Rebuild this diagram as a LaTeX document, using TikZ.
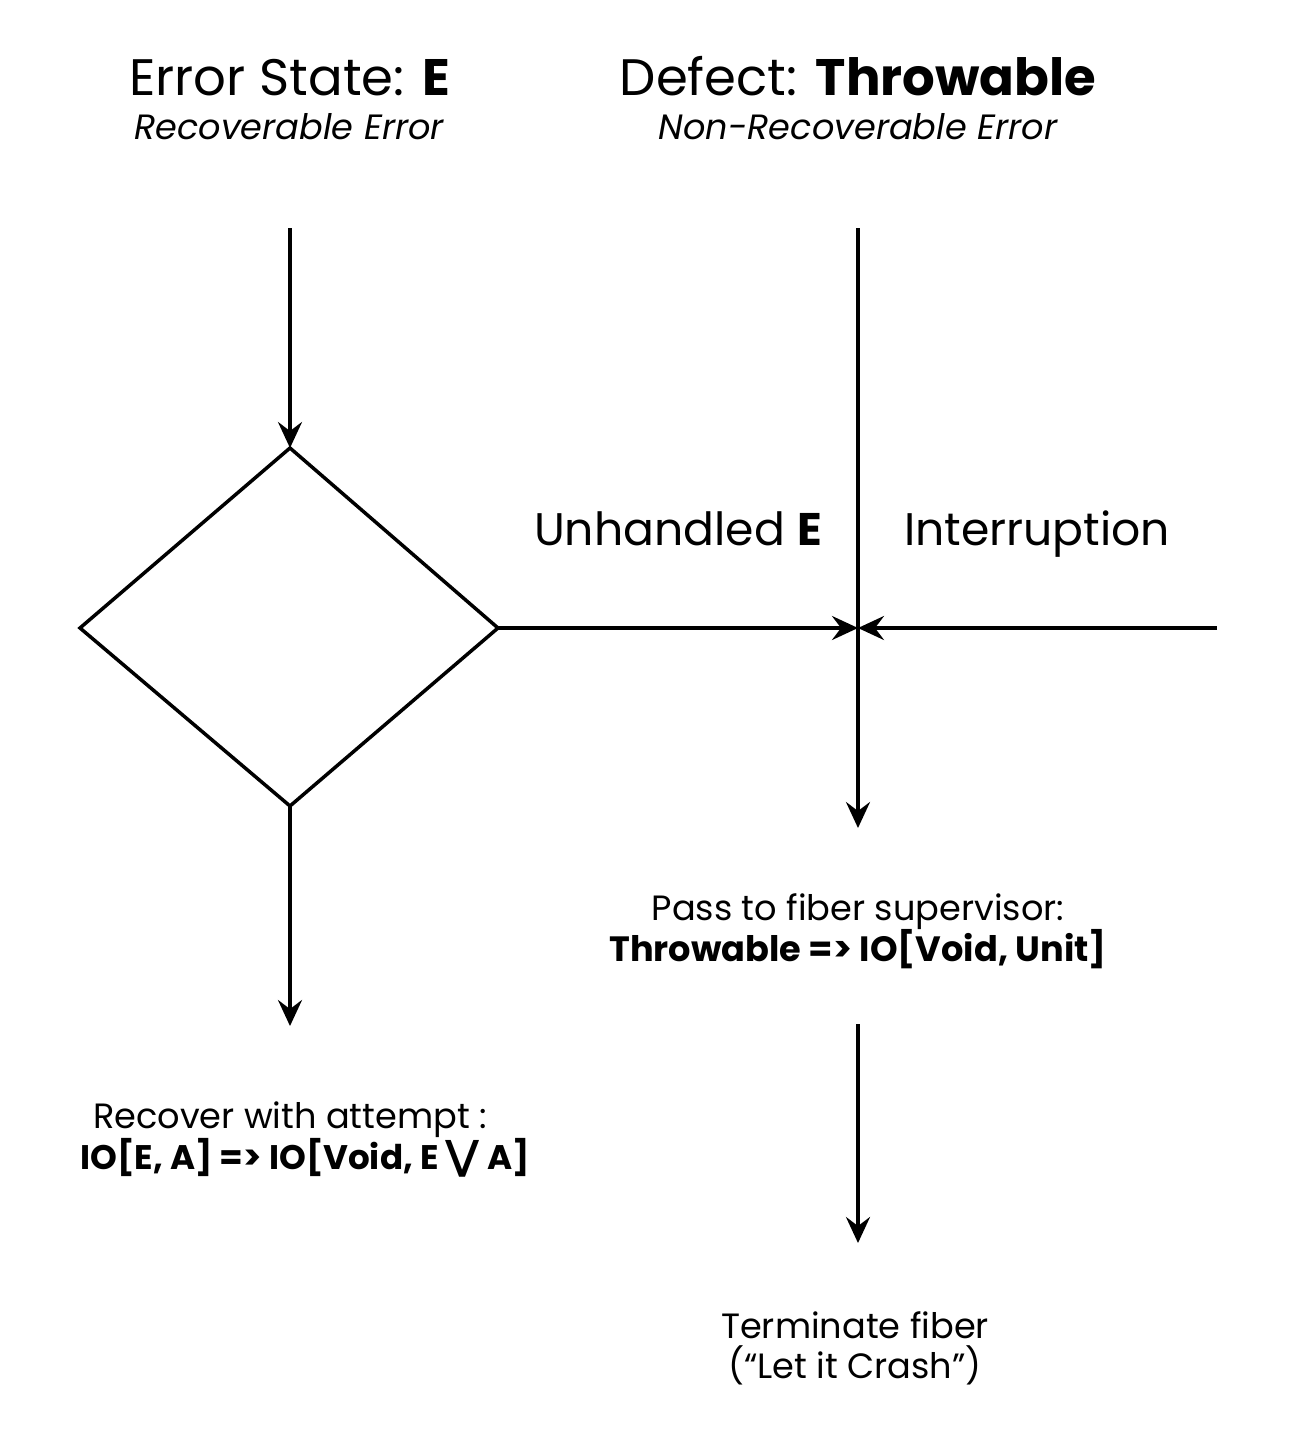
\documentclass[tikz,border=0pt]{standalone}
\usepackage{fontspec}
\setmainfont{Poppins}
\newfontfamily\symfont{DejaVu Sans}
\usetikzlibrary{arrows.meta}

\tikzset{
  flow/.style={line width=0.35mm,-{Stealth[length=2.6mm,width=2.4mm,inset=0.9mm]}},
  titletext/.style={anchor=base,inner sep=0pt,font=\fontsize{14.6}{17}\selectfont},
  subtext/.style={anchor=base,inner sep=0pt,font=\fontsize{10}{12}\itshape},
  pathtext/.style={anchor=base,inner sep=0pt,font=\fontsize{13}{15}\selectfont},
  bodytext/.style={anchor=base,inner sep=0pt,font=\fontsize{10}{12}\selectfont}
}

\begin{document}
\begin{tikzpicture}[x=0.1mm,y=-0.1mm]
  \useasboundingbox (0,0) rectangle (1310,1442);

  % headings
  \node[titletext] (errtitle) at (290,95) {Error State: \textbf{E}};
  \node[subtext] (errsub) at (289,139) {Recoverable Error};
  \node[titletext] (deftitle) at (858,95) {Defect: \textbf{Throwable}};
  \node[subtext] (defsub) at (858,139) {Non-Recoverable Error};

  % decision diamond
  \coordinate (dtop) at (290,448);
  \coordinate (dright) at (498,628);
  \coordinate (dbot) at (290,806);
  \coordinate (dleft) at (80,628);
  \draw[line width=0.35mm,line join=miter] (dtop) -- (dright) -- (dbot) -- (dleft) -- cycle;

  % connectors
  \coordinate (errsrc) at (290,228);
  \coordinate (recend) at (290,1026);
  \coordinate (defsrc) at (858,228);
  \coordinate (meet) at (858,628);
  \coordinate (defend) at (858,828);
  \coordinate (intsrc) at (1217,628);
  \coordinate (supsrc) at (858,1024);
  \coordinate (supend) at (858,1243);

  \draw[flow] (errsrc) -- (dtop);
  \draw[flow] (dbot) -- (recend);
  \draw[flow] (defsrc) -- (defend);
  \draw[flow] (dright) -- (meet);
  \draw[flow] (intsrc) -- (meet);
  \draw[flow] (supsrc) -- (supend);

  % labels
  \node[pathtext] (unhandled) at (678,545) {Unhandled \textbf{E}};
  \node[pathtext] (interrupt) at (1037,545) {Interruption};

  \node[bodytext] (suphead) at (858,920) {Pass to fiber supervisor:};
  \node[bodytext] (supsig) at (858,961) {\textbf{Throwable => IO[Void, Unit]}};

  \node[bodytext] (rechead) at (290,1128) {Recover with attempt :};
  \node[bodytext] (recsig) at (305,1169) {\fontsize{9.7}{12}\selectfont\textbf{IO[E, A] => IO[Void, E {\symfont\fontsize{11.5}{12}\selectfont\smash{⋁}} A]}};

  \node[bodytext] (termhead) at (855,1338) {Terminate fiber};
  \node[bodytext] (termnote) at (855,1378) {(“Let it Crash”)};
\end{tikzpicture}
\end{document}
